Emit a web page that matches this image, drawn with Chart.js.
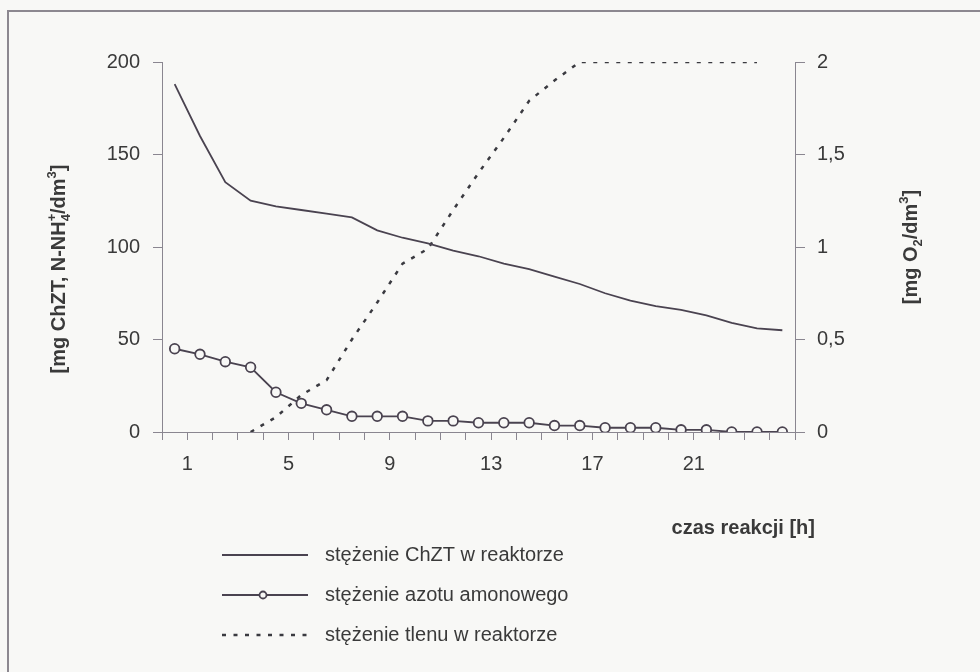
<!DOCTYPE html>
<html>
<head>
<meta charset="utf-8">
<script src="https://cdn.jsdelivr.net/npm/chart.js@4.4.0/dist/chart.umd.min.js"></script>
<style>
  html, body { margin: 0; padding: 0; background: #f8f8f6; overflow: hidden; }
  #frame {
    position: absolute; left: 7px; top: 10px; width: 990px; height: 700px;
    border-left: 2px solid #8c8890; border-top: 2px solid #8c8890;
  }
  #canvas { position: absolute; left: 0; top: 0; }
</style>
</head>
<body>
<div id="frame"></div>
<canvas id="canvas" width="980" height="672"></canvas>
<script>
// reaction time [h]
const hours = ["1", "2", "3", "4", "5", "6", "7", "8", "9", "10", "11", "12", "13",
  "14", "15", "16", "17", "18", "19", "20", "21", "22", "23", "24", "25"];

// ChZT [mg/dm3] - left axis
const chzt = [188, 160, 135, 125, 122, 120, 118, 116, 109, 105, 102, 98, 95,
  91, 88, 84, 80, 75, 71, 68, 66, 63, 59, 56, 55];

// N-NH4+ [mg/dm3] - left axis
const ammonium = [45, 42, 38, 35, 21.5, 15.5, 12, 8.5, 8.5, 8.5, 6, 6, 5,
  5, 5, 3.5, 3.5, 2.3, 2.3, 2.3, 1.2, 1.2, 0, 0, 0];

// O2 [mg/dm3] - right axis
const oxygen = [null, null, null, 0, 0.08, 0.2, 0.28, 0.5, 0.7, 0.91, 0.99, 1.2, 1.4,
  1.59, 1.79, 1.9, 2, 2, 2, 2, 2, 2, 2, 2, null];

const seriesNames = [
  "stężenie ChZT w reaktorze",
  "stężenie azotu amonowego",
  "stężenie tlenu w reaktorze",
];

const LINE = "#4a4350";
const AXIS = "#8a8690";
const TEXT = "#3a3a3a";
const BG = "#f8f8f6";
const FONT = '"Liberation Sans", Arial, Helvetica, sans-serif';

// draws a bold label with sub/superscripts, centred on x,y
function drawRich(ctx, parts, x, y, angle, size) {
  ctx.save();
  ctx.translate(x, y);
  ctx.rotate(angle);
  ctx.textAlign = "left";
  ctx.textBaseline = "alphabetic";
  ctx.fillStyle = TEXT;
  let w = 0;
  parts.forEach((p) => {
    ctx.font = "bold " + size * (p.s || 1) + "px " + FONT;
    if (!p.over) w += ctx.measureText(p.t).width;
  });
  let cx = -w / 2;
  const base = size * 0.36;
  parts.forEach((p) => {
    ctx.font = "bold " + size * (p.s || 1) + "px " + FONT;
    ctx.fillText(p.t, cx, base + (p.dy || 0));
    if (!p.over) cx += ctx.measureText(p.t).width;
  });
  ctx.restore();
}

const titlesAndLegend = {
  id: "titlesAndLegend",
  afterDraw(chart) {
    const { ctx } = chart;

    // Axis titles
    drawRich(ctx, [
      { t: "[mg ChZT, N-NH" },
      { t: "+", s: 0.65, dy: -9, over: true },
      { t: "4", s: 0.65, dy: 5 },
      { t: "/dm" },
      { t: "3", s: 0.65, dy: -9 },
      { t: "]" },
    ], 58, 269, -Math.PI / 2, 20);

    drawRich(ctx, [
      { t: "[mg O" },
      { t: "2", s: 0.65, dy: 5 },
      { t: "/dm" },
      { t: "3", s: 0.65, dy: -9 },
      { t: "]" },
    ], 910, 247, -Math.PI / 2, 20);

    ctx.save();
    ctx.fillStyle = TEXT;
    ctx.font = "bold 20px " + FONT;
    ctx.textAlign = "right";
    ctx.textBaseline = "middle";
    ctx.fillText("czas reakcji [h]", 815, 528);
    ctx.restore();

    // Legend, one entry per row
    const rows = [555, 595, 635];
    chart.data.datasets.forEach((ds, i) => {
      const y = rows[i];
      ctx.save();
      ctx.strokeStyle = ds.borderColor;
      ctx.lineWidth = ds.borderWidth;
      ctx.setLineDash(ds.borderDash || []);
      ctx.beginPath();
      ctx.moveTo(222, y);
      ctx.lineTo(308, y);
      ctx.stroke();
      if (ds.pointRadius > 0) {
        ctx.setLineDash([]);
        ctx.fillStyle = BG;
        ctx.beginPath();
        ctx.arc(263, y, 3.5, 0, Math.PI * 2);
        ctx.fill();
        ctx.stroke();
      }
      ctx.fillStyle = TEXT;
      ctx.font = "20px " + FONT;
      ctx.textAlign = "left";
      ctx.textBaseline = "middle";
      ctx.fillText(ds.label, 325, y);
      ctx.restore();
    });
  },
};

new Chart(document.getElementById("canvas"), {
  type: "line",
  data: {
    labels: hours,
    datasets: [
      {
        label: seriesNames[0],
        data: chzt,
        yAxisID: "y",
        borderColor: LINE,
        borderWidth: 1.8,
        pointRadius: 0,
      },
      {
        label: seriesNames[1],
        data: ammonium,
        yAxisID: "y",
        borderColor: LINE,
        borderWidth: 1.8,
        pointRadius: 4.8,
        pointBorderWidth: 1.8,
        pointBackgroundColor: BG,
        pointBorderColor: LINE,
      },
      {
        label: seriesNames[2],
        data: oxygen,
        yAxisID: "y1",
        borderColor: "#3a3a40",
        borderWidth: 2.5,
        borderDash: [4, 7.5],
        pointRadius: 0,
      },
    ],
  },
  options: {
    responsive: false,
    animation: false,
    events: [],
    layout: { padding: { top: 62, left: 0, right: 0, bottom: 0 } },
    plugins: {
      legend: { display: false },
      tooltip: { enabled: false },
    },
    scales: {
      x: {
        type: "category",
        offset: true,
        grid: {
          offset: true,
          drawOnChartArea: false,
          drawTicks: true,
          tickLength: 8,
          color: AXIS,
        },
        border: { color: AXIS, width: 1 },
        ticks: {
          autoSkip: false,
          maxRotation: 0,
          labelOffset: 12.7,
          padding: 12,
          color: TEXT,
          font: { family: FONT, size: 20 },
          // every 4th hour, the last one would fall past the axis end
          callback: function (value, index) {
            return index % 4 === 0 && index < hours.length - 1 ? this.getLabelForValue(value) : "";
          },
        },
        afterFit(scale) { scale.height = 240; },
      },
      y: {
        position: "left",
        min: 0,
        max: 200,
        grid: {
          drawOnChartArea: false,
          tickLength: 9,
          color: AXIS,
        },
        border: { color: AXIS, width: 1 },
        ticks: {
          stepSize: 50,
          padding: 13,
          color: TEXT,
          font: { family: FONT, size: 20 },
        },
        afterFit(scale) { scale.width = 162; },
      },
      y1: {
        position: "right",
        min: 0,
        max: 2,
        grid: {
          drawOnChartArea: false,
          tickLength: 10,
          color: AXIS,
        },
        border: { color: AXIS, width: 1 },
        ticks: {
          stepSize: 0.5,
          padding: 12,
          color: TEXT,
          font: { family: FONT, size: 20 },
          callback: (v) => String(v).replace(".", ","),
        },
        afterFit(scale) { scale.width = 185; },
      },
    },
  },
  plugins: [titlesAndLegend],
});
</script>
</body>
</html>
